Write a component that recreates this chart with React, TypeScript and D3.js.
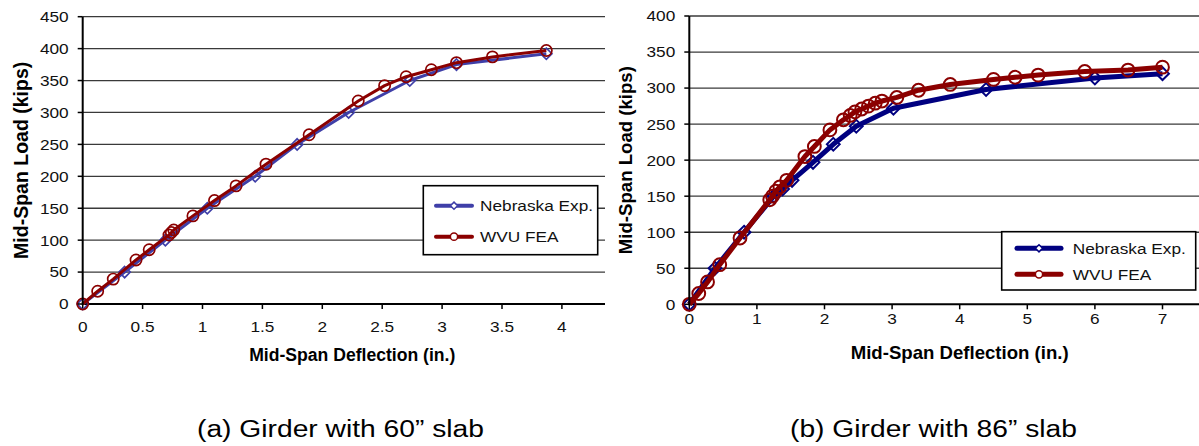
import React from 'react';
import * as d3 from 'd3';

// ---- data ----
const seriesNames = ['Nebraska Exp.', 'WVU FEA'];
const captionA = '(a)  Girder with 60\u201d slab';
const captionB = '(b)  Girder with 86\u201d slab';
const xTitle = 'Mid-Span Deflection (in.)';
const yTitle = 'Mid-Span Load (kips)';

const xTicksA = [0, 0.5, 1, 1.5, 2, 2.5, 3, 3.5, 4];
const yTicksA = [0, 50, 100, 150, 200, 250, 300, 350, 400, 450];
const xTicksB = [0, 1, 2, 3, 4, 5, 6, 7];
const yTicksB = [0, 50, 100, 150, 200, 250, 300, 350, 400];

// (a) 60" slab
const nebraskaADefl = [0, 0.35, 0.69, 1.04, 1.44, 1.79, 2.22, 2.73, 3.12, 3.87];
const nebraskaALoad = [0, 50, 100, 150, 200, 250, 300, 350, 375, 392];
const wvuADefl = [0, 0.125, 0.255, 0.445, 0.555, 0.72, 0.74, 0.76, 0.92, 1.1, 1.28, 1.53, 1.89, 2.3, 2.52, 2.7, 2.91, 3.12, 3.42, 3.87];
const wvuALoad = [0, 20, 39, 69, 85, 108, 112, 116, 138, 162, 185, 219, 265, 318, 342, 356, 367, 378, 387, 397];

// (b) 86" slab
const nebraskaBDefl = [0, 0.38, 0.81, 1.25, 1.38, 1.52, 1.83, 2.13, 2.47, 3.02, 4.39, 6.0, 7.0];
const nebraskaBLoad = [0, 50, 100, 150, 160, 172, 197, 222, 247, 272, 298, 314, 320];
const wvuBDefl = [0, 0.14, 0.27, 0.45, 0.75, 1.19, 1.23, 1.28, 1.34, 1.44, 1.71, 1.85, 2.08, 2.28, 2.38, 2.45, 2.55, 2.65, 2.75, 2.85, 3.07, 3.39, 3.86, 4.5, 4.82, 5.16, 5.85, 6.49, 7.0];
const wvuBLoad = [0, 15, 31, 55, 92, 145, 150, 157, 163, 172, 205, 219, 242, 256, 262, 267, 271, 275, 279, 282, 287, 297, 305, 312, 315, 318, 323, 325, 329];

const FONT = '"Liberation Sans", Arial, Helvetica, sans-serif';
const SX = 1.15; // the figure is stretched a little horizontally

const zip = (a: number[], b: number[]) => a.map((v, i) => [v, b[i]] as [number, number]);
const diamondPath = (r: number) => `M0,${-r}L${r},0L0,${r}L${-r},0Z`;

type Series = { name: string; pts: [number, number][]; color: string; marker: 'diamond' | 'circle' };

type PanelProps = {
  id: string;
  xDomain: [number, number];
  xRange: [number, number];
  yDomain: [number, number];
  yRange: [number, number];
  clipRight: number;
  xTicks: number[];
  yTicks: number[];
  xLabelY: number;
  xTitleY: number;
  xTitleSize: number;
  yTitleX: number;
  yTitleSize: number;
  lineW: number;
  markR: number;
  markW: number;
  series: Series[];
  legend: { x: number; y: number; w: number; h: number; rowY: number[]; lx: [number, number]; tx: number; lw: number };
};

function Panel(p: PanelProps) {
  const x = d3.scaleLinear().domain(p.xDomain).range(p.xRange);
  const y = d3.scaleLinear().domain(p.yDomain).range(p.yRange);
  const line = d3.line<[number, number]>().x(d => x(d[0])).y(d => y(d[1]));
  const x0 = p.xRange[0];
  const yb = y(p.yDomain[0]);
  const yt = y(p.yDomain[1]);
  const xc = (p.xRange[0] + p.xRange[1]) / 2;
  const yc = (yb + yt) / 2;
  const clipId = `clip-${p.id}`;

  const marker = (s: Series, cx: number, cy: number, r: number, key: string | number) =>
    s.marker === 'circle' ? (
      <circle key={key} cx={cx} cy={cy} r={r} fill="none" stroke={s.color} strokeWidth={p.markW} />
    ) : (
      <path key={key} d={diamondPath(r)} transform={`translate(${cx},${cy})`} fill="none" stroke={s.color} strokeWidth={p.markW} />
    );

  return (
    <g>
      <defs>
        <clipPath id={clipId}>
          <rect x={x0 - 12} y={0} width={p.clipRight - x0 + 12} height={446} />
        </clipPath>
      </defs>
      <g clipPath={`url(#${clipId})`}>
        {p.yTicks.filter(v => v > 0).map(v => (
          <line key={v} x1={x0} x2={p.xRange[1]} y1={y(v)} y2={y(v)} stroke="#3a3a3a" strokeWidth={1.3} />
        ))}
        <line x1={x0} x2={p.xRange[1]} y1={yb} y2={yb} stroke="#000" strokeWidth={2} />
        {p.xTicks.map(v => (
          <line key={v} x1={x(v)} x2={x(v)} y1={yb} y2={yb + 5} stroke="#000" strokeWidth={1.5} />
        ))}
        {p.series.map(s => (
          <g key={s.name}>
            <path d={line(s.pts) || ''} fill="none" stroke={s.color} strokeWidth={p.lineW} strokeLinejoin="round" />
            {s.pts.map((d, i) => marker(s, x(d[0]), y(d[1]), p.markR, i))}
          </g>
        ))}
      </g>
      <line x1={x0} x2={x0} y1={yb + 1} y2={yt} stroke="#000" strokeWidth={2} />
      {p.yTicks.map(v => (
        <g key={v}>
          <line x1={x0 - 5} x2={x0} y1={y(v)} y2={y(v)} stroke="#000" strokeWidth={1.5} />
          <text
            transform={`translate(${x0 - 14},${y(v) + 5.4}) scale(${SX},1)`}
            textAnchor="end"
            fontFamily={FONT}
            fontSize={15}
            fill="#111"
          >
            {String(v)}
          </text>
        </g>
      ))}
      {p.xTicks.map(v => (
        <text
          key={v}
          transform={`translate(${x(v)},${p.xLabelY}) scale(${SX},1)`}
          textAnchor="middle"
          fontFamily={FONT}
          fontSize={15}
          fill="#111"
        >
          {String(v)}
        </text>
      ))}
      <text x={xc} y={p.xTitleY} textAnchor="middle" fontFamily={FONT} fontWeight="bold" fontSize={p.xTitleSize} fill="#000">
        {xTitle}
      </text>
      <text
        transform={`translate(${p.yTitleX},${yc}) rotate(-90)`}
        textAnchor="middle"
        fontFamily={FONT}
        fontWeight="bold"
        fontSize={p.yTitleSize}
        fill="#000"
      >
        {yTitle}
      </text>
      <g>
        <rect x={p.legend.x} y={p.legend.y} width={p.legend.w} height={p.legend.h} fill="#fff" stroke="#000" strokeWidth={1.6} />
        {p.series.map((s, i) => {
          const ly = p.legend.rowY[i];
          const mx = (p.legend.lx[0] + p.legend.lx[1]) / 2;
          return (
            <g key={s.name}>
              <line x1={p.legend.lx[0]} x2={p.legend.lx[1]} y1={ly} y2={ly} stroke={s.color} strokeWidth={p.legend.lw} strokeLinecap="round" />
              {s.marker === 'circle' ? (
                <circle cx={mx} cy={ly} r={3.6} fill="#fff" stroke={s.color} strokeWidth={1.5} />
              ) : (
                <path d={diamondPath(3.6)} transform={`translate(${mx},${ly})`} fill="#fff" stroke={s.color} strokeWidth={1.5} />
              )}
              <text
                transform={`translate(${p.legend.tx},${ly + 5.4}) scale(${SX},1)`}
                fontFamily={FONT}
                fontSize={15}
                fill="#111"
              >
                {s.name}
              </text>
            </g>
          );
        })}
      </g>
    </g>
  );
}

export default function App() {
  const red = '#8b0000';
  const seriesA: Series[] = [
    { name: seriesNames[0], pts: zip(nebraskaADefl, nebraskaALoad), color: '#3f3fa8', marker: 'diamond' },
    { name: seriesNames[1], pts: zip(wvuADefl, wvuALoad), color: red, marker: 'circle' },
  ];
  const seriesB: Series[] = [
    { name: seriesNames[0], pts: zip(nebraskaBDefl, nebraskaBLoad), color: '#000080', marker: 'diamond' },
    { name: seriesNames[1], pts: zip(wvuBDefl, wvuBLoad), color: red, marker: 'circle' },
  ];

  return (
    <svg width={1199} height={446} style={{ position: 'absolute', left: 0, top: 0, background: '#fff' }}>
      <Panel
        id="a"
        xDomain={[0, 4.5]}
        xRange={[82.7, 621.8]}
        yDomain={[0, 450]}
        yRange={[304, 16.7]}
        clipRight={605}
        xTicks={xTicksA}
        yTicks={yTicksA}
        xLabelY={332}
        xTitleY={361}
        xTitleSize={17.6}
        yTitleX={27.5}
        yTitleSize={19.5}
        lineW={3}
        markR={5.6}
        markW={1.7}
        series={seriesA}
        legend={{ x: 423.3, y: 185.7, w: 174.4, h: 69, rowY: [205.7, 236.7], lx: [436, 472], tx: 480, lw: 4 }}
      />
      <Panel
        id="b"
        xDomain={[0, 8]}
        xRange={[689.3, 1230.1]}
        yDomain={[0, 400]}
        yRange={[304.3, 16]}
        clipRight={1199}
        xTicks={xTicksB}
        yTicks={yTicksB}
        xLabelY={324}
        xTitleY={359}
        xTitleSize={18.6}
        yTitleX={632}
        yTitleSize={18.6}
        lineW={5}
        markR={6.4}
        markW={2}
        series={seriesB}
        legend={{ x: 1001.7, y: 231.7, w: 194, h: 58.3, rowY: [248.3, 274.3], lx: [1017, 1061], tx: 1072.7, lw: 5 }}
      />
      <text x={197} y={437} textLength={287} lengthAdjust="spacingAndGlyphs" fontFamily={FONT} fontSize={23} fill="#000">
        {captionA}
      </text>
      <text x={790} y={437} textLength={287} lengthAdjust="spacingAndGlyphs" fontFamily={FONT} fontSize={23} fill="#000">
        {captionB}
      </text>
    </svg>
  );
}
